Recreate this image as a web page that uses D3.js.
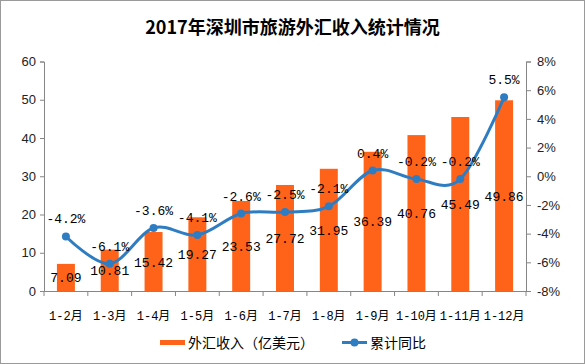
<!DOCTYPE html>
<html><head><meta charset="utf-8">
<script src="https://cdn.jsdelivr.net/npm/d3@7/dist/d3.min.js"></script>
<style>body{margin:0;background:#fff}svg{display:block}</style>
</head><body>
<script>
const categories = ["1-2月","1-3月","1-4月","1-5月","1-6月","1-7月","1-8月","1-9月","1-10月","1-11月","1-12月"];
const income = [7.09,10.81,15.42,19.27,23.53,27.72,31.95,36.39,40.76,45.49,49.86];
const growth = [-4.2,-6.1,-3.6,-4.1,-2.6,-2.5,-2.1,0.4,-0.2,-0.2,5.5];
const leftTicks = [0,10,20,30,40,50,60];
const rightTicks = [-8,-6,-4,-2,0,2,4,6,8];
const title = "2017年深圳市旅游外汇收入统计情况";
const legendLabels = ["外汇收入（亿美元）","累计同比"];

const W = 585, H = 364;
const barColor = "#FF6319", lineColor = "#2E7DC2";
const sans = "Liberation Sans, Arial, sans-serif";
const mono = "'Liberation Mono', 'Noto Sans CJK SC', monospace";

const svg = d3.select("body").append("svg").attr("width", W).attr("height", H);
svg.append("rect").attr("x",0.5).attr("y",0.5).attr("width",W-1).attr("height",H-1)
  .attr("fill","#fff").attr("stroke","#9a9a9a");

const x = d3.scaleBand().domain(categories).range([44, 526]).paddingInner(0).paddingOuter(0);
const yL = d3.scaleLinear().domain([0, 60]).range([291, 61.5]);
const yR = d3.scaleLinear().domain([-8, 8]).range([291, 61.5]);

svg.append("text").attr("x", W/2).attr("y", 34).attr("text-anchor","middle")
  .attr("font-family","'Noto Sans CJK SC', sans-serif").attr("font-size",18).attr("font-weight","bold")
  .attr("fill","#000").text(title);

// axes
const axL = svg.append("g").attr("transform","translate(44,0)")
  .call(d3.axisLeft(yL).tickValues(leftTicks).tickSize(4).tickPadding(4).tickFormat(d3.format("d")));
const axR = svg.append("g").attr("transform","translate(526,0)")
  .call(d3.axisRight(yR).tickValues(rightTicks).tickSize(5).tickPadding(6).tickFormat(d => d + "%"));
[axL, axR].forEach(a => {
  a.select(".domain").attr("stroke","#868686");
  a.selectAll(".tick line").attr("stroke","#868686");
  a.selectAll("text").attr("font-family",sans).attr("font-size",13).attr("fill","#222");
});

const axB = svg.append("g").attr("transform","translate(0,291)")
  .call(d3.axisBottom(x).tickSize(0).tickPadding(20));
axB.select(".domain").attr("stroke","#868686");
axB.selectAll("text").attr("font-family",mono).attr("font-size",12).attr("fill","#000");
// tick marks at category boundaries
const bounds = categories.map(c => x(c)).concat([x.range()[1]]);
axB.selectAll(".bt").data(bounds).enter().append("line").attr("class","bt")
  .attr("x1", d => d).attr("x2", d => d).attr("y1", 0).attr("y2", 5).attr("stroke","#868686");

// bars
const bw = x.bandwidth() * 0.41;
svg.append("g").selectAll("rect").data(income).enter().append("rect")
  .attr("x", (d,i) => x(categories[i]) + x.bandwidth()/2 - bw/2)
  .attr("y", d => yL(d)).attr("width", bw).attr("height", d => yL(0) - yL(d))
  .attr("fill", barColor);

// line
const pts = growth.map((g,i) => [x(categories[i]) + x.bandwidth()/2, yR(g)]);
svg.append("path").attr("d", d3.line().curve(d3.curveCatmullRom.alpha(0))(pts))
  .attr("fill","none").attr("stroke",lineColor).attr("stroke-width",3);
svg.append("g").selectAll("circle").data(pts).enter().append("circle")
  .attr("cx", d => d[0]).attr("cy", d => d[1]).attr("r", 4).attr("fill", lineColor);

// bar labels
svg.append("g").selectAll("text").data(income).enter().append("text")
  .attr("x", (d,i) => x(categories[i]) + x.bandwidth()/2)
  .attr("y", d => yL(d/2) + 5).attr("text-anchor","middle")
  .attr("font-family",mono).attr("font-size",13).attr("fill","#000")
  .text(d => d.toFixed(2));

// line labels
svg.append("g").selectAll("text").data(growth).enter().append("text")
  .attr("x", (d,i) => pts[i][0]).attr("y", (d,i) => pts[i][1] - 13)
  .attr("text-anchor","middle").attr("font-family",mono).attr("font-size",13).attr("fill","#000")
  .text(d => d.toFixed(1) + "%");

// legend
const lg = svg.append("g").attr("font-family","'Noto Sans CJK SC', sans-serif").attr("font-size",14).attr("fill","#000");
lg.append("rect").attr("x",160).attr("y",340).attr("width",25).attr("height",5).attr("fill",barColor);
lg.append("text").attr("x",188).attr("y",348).text(legendLabels[0]);
lg.append("line").attr("x1",342).attr("x2",367).attr("y1",342.5).attr("y2",342.5).attr("stroke",lineColor).attr("stroke-width",3);
lg.append("circle").attr("cx",354.5).attr("cy",342.5).attr("r",4).attr("fill",lineColor);
lg.append("text").attr("x",370).attr("y",348).text(legendLabels[1]);
</script>
</body></html>
